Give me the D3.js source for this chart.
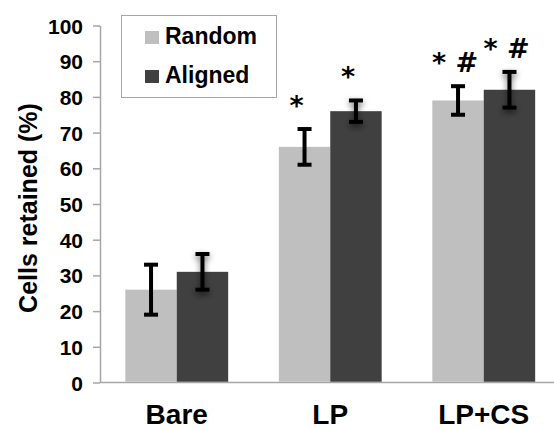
<!doctype html>
<html lang="en">
<head>
  <meta charset="utf-8">
  <title>Cells retained</title>
  <script src="https://d3js.org/d3.v7.min.js"></script>
  <style>
    body { margin: 0; background: #fff; }
    svg { display: block; font-family: "Liberation Sans", Arial, sans-serif; font-weight: bold; }
    .axis path, .axis line { stroke: #a6a6a6; stroke-width: 1.5; }
    .axis text { fill: #000; font-size: 21px; font-weight: bold; }
  </style>
</head>
<body>
  <div id="chart"></div>
  <script>
    // data
    const categories = ['Bare', 'LP', 'LP+CS'];
    const series = ['Random', 'Aligned'];
    const randomMean = [26, 66, 79];
    const randomErr = [7, 5, 4];
    const alignedMean = [31, 76, 82];
    const alignedErr = [5, 3, 5];
    const randomMarks = ['', '*', '* #'];
    const alignedMarks = ['', '*', '* #'];
    const yTicks = [0, 10, 20, 30, 40, 50, 60, 70, 80, 90, 100];
    const colors = ['#bfbfbf', '#404040'];

    const width = 554, height = 430;
    const svg = d3.select('#chart').append('svg')
      .attr('width', width)
      .attr('height', height);

    // soft shadow under the error bars of the dark series
    const defs = svg.append('defs');
    const shadow = defs.append('filter').attr('id', 'shadow')
      .attr('x', '-100%').attr('y', '-50%').attr('width', '300%').attr('height', '200%');
    shadow.append('feGaussianBlur').attr('in', 'SourceAlpha').attr('stdDeviation', 3);
    shadow.append('feOffset').attr('dy', 3).attr('result', 'blur');
    shadow.append('feComponentTransfer').append('feFuncA').attr('type', 'linear').attr('slope', 0.6);
    const merge = shadow.append('feMerge');
    merge.append('feMergeNode');
    merge.append('feMergeNode').attr('in', 'SourceGraphic');

    const y = d3.scaleLinear().domain([0, 100]).range([382.5, 25.5]);
    const x0 = d3.scaleBand().domain(categories).range([100, 560.5])
      .paddingInner(0.33).paddingOuter(0.165);
    const x1 = d3.scaleBand().domain(series).range([0, x0.bandwidth()]);

    // axes
    svg.append('g')
      .attr('class', 'axis')
      .attr('transform', 'translate(100,0)')
      .call(d3.axisLeft(y).tickValues(yTicks).tickSize(7).tickPadding(10).tickSizeOuter(0))
      .call(g => g.selectAll('text').attr('dy', '0.36em'));

    svg.append('line')
      .attr('x1', 100).attr('x2', width)
      .attr('y1', y(0)).attr('y2', y(0))
      .attr('stroke', '#a6a6a6').attr('stroke-width', 1.5);

    // rows of data per series
    const rows = series.map((s, si) => categories.map((c, ci) => ({
      cat: c,
      series: s,
      mean: si === 0 ? randomMean[ci] : alignedMean[ci],
      err: si === 0 ? randomErr[ci] : alignedErr[ci],
      mark: si === 0 ? randomMarks[ci] : alignedMarks[ci],
      color: colors[si]
    })));

    const groups = svg.append('g').selectAll('g')
      .data(rows)
      .join('g');

    groups.selectAll('rect')
      .data(d => d)
      .join('rect')
      .attr('x', d => x0(d.cat) + x1(d.series))
      .attr('y', d => y(d.mean))
      .attr('width', x1.bandwidth())
      .attr('height', d => y(0) - y(d.mean) - 0.75)
      .attr('fill', d => d.color);

    // error bars
    const errG = svg.append('g').selectAll('g')
      .data(rows.flat())
      .join('g')
      .attr('filter', d => d.series === 'Aligned' ? 'url(#shadow)' : null)
      .attr('stroke', '#000')
      .attr('stroke-width', 4);

    const cx = d => x0(d.cat) + x1(d.series) + x1.bandwidth() / 2;
    errG.append('line')
      .attr('x1', cx).attr('x2', cx)
      .attr('y1', d => y(d.mean + d.err)).attr('y2', d => y(d.mean - d.err));
    errG.append('line')
      .attr('x1', d => cx(d) - 7).attr('x2', d => cx(d) + 7)
      .attr('y1', d => y(d.mean + d.err)).attr('y2', d => y(d.mean + d.err));
    errG.append('line')
      .attr('x1', d => cx(d) - 7).attr('x2', d => cx(d) + 7)
      .attr('y1', d => y(d.mean - d.err)).attr('y2', d => y(d.mean - d.err));

    // significance marks
    svg.append('g').selectAll('text')
      .data(rows.flat().filter(d => d.mark))
      .join('text')
      .attr('x', d => cx(d) + (d.mark === '*' ? -8 : -3))
      .attr('y', d => y(d.mean + d.err) - 14)
      .attr('text-anchor', 'middle')
      .attr('font-family', '"DejaVu Sans", sans-serif')
      .attr('font-size', 27)
      .attr('font-weight', 'bold')
      .text(d => d.mark);

    // x labels
    svg.append('g').selectAll('text')
      .data(categories)
      .join('text')
      .attr('x', d => x0(d) + x0.bandwidth() / 2)
      .attr('y', 424)
      .attr('text-anchor', 'middle')
      .attr('font-size', 28)
      .text(d => d);

    // y title
    svg.append('text')
      .attr('transform', 'translate(37,208) rotate(-90)')
      .attr('text-anchor', 'middle')
      .attr('font-size', 25)
      .text('Cells retained (%)');

    // legend
    const legend = svg.append('g');
    legend.append('rect')
      .attr('x', 121.5).attr('y', 15.5)
      .attr('width', 155).attr('height', 82)
      .attr('fill', '#fff').attr('stroke', '#a6a6a6').attr('stroke-width', 1);
    const items = legend.selectAll('g')
      .data(series)
      .join('g')
      .attr('transform', (d, i) => `translate(145,${31 + i * 39})`);
    items.append('rect')
      .attr('width', 14).attr('height', 13)
      .attr('fill', (d, i) => colors[i]);
    items.append('text')
      .attr('x', 20).attr('y', 12.5)
      .attr('font-size', 23)
      .text(d => d);
  </script>
</body>
</html>
